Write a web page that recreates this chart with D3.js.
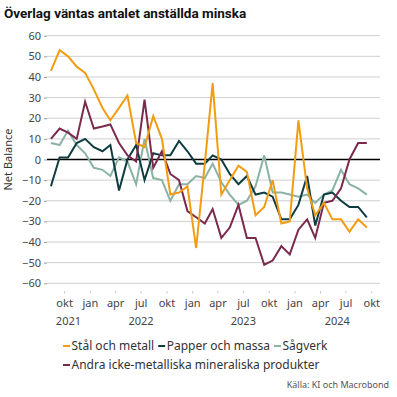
<!DOCTYPE html>
<html>
<head>
<meta charset="utf-8">
<script src="https://cdn.jsdelivr.net/npm/d3@7"></script>
<style>
  body { margin: 0; background: #fff; }
  text { font-family: "Noto Sans", Roboto, sans-serif; }
</style>
</head>
<body>
<div id="plt"></div>
<script>
// monthly data, aug 2021 - sep 2024
var startMonth = new Date(2021, 7, 15);
var stal   = [43, 53, 50, 45, 42, 34, 25, 19, 25, 31, 8, 6, 21, 10, -17, -16, -13, -43, -2, 37,
              -17, -10, -3, -6, -27, -23, -10, -31, -30, 19, -14, -27, -21, -29, -29, -35, -29, -33];
var papper = [-13, 1, 1, 8, 10, 6, 4, 7, -15, 0, 7, -10, 3, 2, 2, 9, 4, -2, -2, 2,
              0, -7, -12, -8, -17, -16, -18, -29, -29, -22, -8, -32, -17, -16, -20, -23, -23, -28];
var sagverk = [8, 7, 14, 7, 3, -4, -5, -8, 1, -1, -12, 10, -9, -10, -20, -12, -12, -8, -9, -2,
              -11, -17, -22, -20, -13, 2, -16, -16, -17, -18, -17, -21, -17, -15, -5, -12, -14, -17];
var andra  = [10, 15, 13, 10, 28, 15, 16, 17, 8, 2, -1, 29, -4, 4, -7, -10, -25, -28, -31, -24,
              -38, -33, -22, -38, -38, -51, -49, -42, -46, -34, -29, -38, -21, -20, -14, 0, 8, 8];

var seriesNames = ["Stål och metall", "Papper och massa", "Sågverk", "Andra icke-metalliska mineraliska produkter"];
var seriesColors = ["#f39c12", "#0c3c40", "#8ab3a6", "#7b2a4d"];
var yTicks = [60, 50, 40, 30, 20, 10, 0, -10, -20, -30, -40, -50, -60];
var monthNames = ["jan", "feb", "mar", "apr", "maj", "jun", "jul", "aug", "sep", "okt", "nov", "dec"];
var years = [2021, 2022, 2023, 2024];

var W = 397, H = 397;
var margin = {top: 35.7, right: 17, bottom: 113.7, left: 47};

var svg = d3.select("#plt")
            .append("svg")
            .attr("width", W)
            .attr("height", H);

var xDomain = [new Date(2021, 7, 1), new Date(2024, 10, 1)];
var x = d3.scaleTime()
          .domain(xDomain)
          .range([margin.left, W - margin.right]);

var y = d3.scaleLinear()
          .domain([-60, 60])
          .range([H - margin.bottom, margin.top]);

function dateAt(i) {
  return new Date(startMonth.getFullYear(), startMonth.getMonth() + i, 15);
}

// title
svg.append("text")
   .attr("x", 4)
   .attr("y", 18)
   .attr("font-size", "13.5px")
   .attr("font-weight", "bold")
   .attr("fill", "#111")
   .style("font-family", "Roboto, sans-serif")
   .text("Överlag väntas antalet anställda minska");

// grid
svg.append("g")
   .selectAll("line")
   .data(yTicks)
   .enter()
   .append("line")
   .attr("x1", x.range()[0])
   .attr("x2", x.range()[1])
   .attr("y1", function(d) { return y(d); })
   .attr("y2", function(d) { return y(d); })
   .attr("stroke", function(d) { return d === 0 ? "#000" : "#cfcfcf"; })
   .attr("stroke-width", function(d) { return d === 0 ? 1.4 : 1; });

// y axis
var yAxis = svg.append("g")
   .attr("transform", "translate(" + margin.left + ",0)")
   .call(d3.axisLeft(y).tickValues(yTicks).tickSize(3).tickPadding(3));
yAxis.select(".domain").remove();
yAxis.selectAll(".tick line").attr("stroke", "#999");
yAxis.selectAll("text")
     .attr("font-size", "11px")
     .attr("fill", "#444")
     .style("font-family", "'Noto Sans', sans-serif");

svg.append("text")
   .attr("transform", "translate(12," + y(0) + ")rotate(-90)")
   .attr("text-anchor", "middle")
   .attr("font-size", "11px")
   .attr("fill", "#333")
   .text("Net Balance");

// x axis: quarterly ticks
var xTickVals = d3.timeMonth.range(new Date(2021, 9, 1), new Date(2024, 10, 1), 3);
var xAxisY = y(-60) + 8;
var xAxis = svg.append("g")
   .attr("transform", "translate(0," + xAxisY + ")")
   .call(d3.axisBottom(x)
           .tickValues(xTickVals)
           .tickSize(2)
           .tickPadding(6)
           .tickFormat(function(d) { return monthNames[d.getMonth()]; }));
xAxis.select(".domain").remove();
xAxis.selectAll(".tick line").attr("stroke", "#bbb");
xAxis.selectAll("text")
     .attr("font-size", "11px")
     .attr("fill", "#444")
     .style("font-family", "'Noto Sans', sans-serif");

// year labels centred on the visible part of each year
svg.append("g")
   .selectAll("text")
   .data(years)
   .enter()
   .append("text")
   .attr("x", function(d) {
     var a = Math.max(x(new Date(d, 0, 1)), x.range()[0]);
     var b = Math.min(x(new Date(d + 1, 0, 1)), x.range()[1]);
     return (a + b) / 2;
   })
   .attr("y", xAxisY + 34)
   .attr("text-anchor", "middle")
   .attr("font-size", "11px")
   .attr("fill", "#444")
   .text(function(d) { return d; });

// lines
var allSeries = [stal, papper, sagverk, andra];
var line = d3.line()
             .x(function(d, i) { return x(dateAt(i)); })
             .y(function(d) { return y(d); });

// draw order: sagverk, papper, andra, stal on top
var order = [2, 1, 3, 0];
svg.append("g")
   .selectAll("path")
   .data(order)
   .enter()
   .append("path")
   .attr("d", function(k) { return line(allSeries[k]); })
   .attr("fill", "none")
   .attr("stroke", function(k) { return seriesColors[k]; })
   .attr("stroke-width", 2)
   .attr("stroke-linejoin", "miter");

// legend
var legendRows = [[0, 1, 2], [3]];
var legend = svg.append("g");
legendRows.forEach(function(row, r) {
  var lx = 63;
  var ly = 346 + r * 19;
  row.forEach(function(k) {
    legend.append("line")
          .attr("x1", lx).attr("x2", lx + 7)
          .attr("y1", ly).attr("y2", ly)
          .attr("stroke", seriesColors[k])
          .attr("stroke-width", 2);
    var t = legend.append("text")
          .attr("x", lx + 8.5)
          .attr("y", ly + 4)
          .attr("font-size", "12px")
          .attr("fill", "#333")
          .text(seriesNames[k]);
    lx += 8.5 + t.node().getComputedTextLength() + 4;
  });
});

// source
svg.append("text")
   .attr("x", 389)
   .attr("y", 388)
   .attr("text-anchor", "end")
   .attr("font-size", "9px")
   .attr("fill", "#555")
   .text("Källa: KI och Macrobond");
</script>
</body>
</html>
